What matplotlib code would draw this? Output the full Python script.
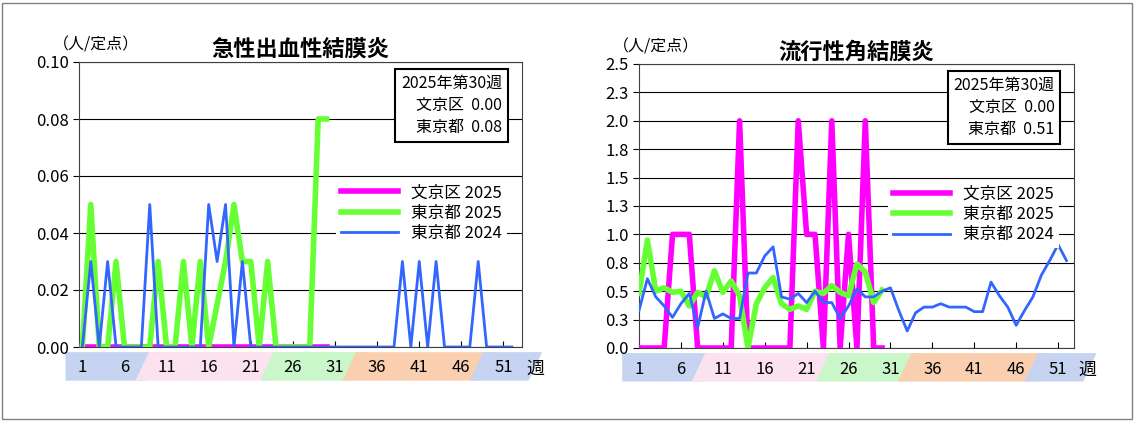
import matplotlib.pyplot as plt
from matplotlib.patches import Polygon, Rectangle
import matplotlib.transforms as mtransforms

plt.rcParams['font.family'] = ['Noto Sans CJK JP', 'DejaVu Sans']

# %% data
weeks_2025 = list(range(1, 31))
weeks_2024 = list(range(1, 53))

# 急性出血性結膜炎
ahc_bunkyo_2025 = [0.0] * 30
ahc_tokyo_2025 = [0, 0.05, 0, 0, 0.03, 0, 0, 0, 0, 0.03, 0, 0, 0.03, 0, 0.03, 0,
                  0.015, 0.03, 0.05, 0.03, 0.03, 0, 0.03, 0, 0, 0, 0, 0, 0.08, 0.08]
ahc_tokyo_2024 = [0, 0.03, 0, 0.03, 0, 0, 0, 0, 0.05, 0, 0, 0, 0, 0, 0, 0.05,
                  0.03, 0.05, 0, 0.03, 0, 0, 0, 0, 0, 0, 0, 0, 0, 0, 0, 0, 0, 0, 0,
                  0, 0, 0, 0.03, 0, 0.03, 0, 0.03, 0, 0, 0, 0, 0.03, 0, 0, 0, 0]

# 流行性角結膜炎
ekc_bunkyo_2025 = [0, 0, 0, 0, 1.0, 1.0, 1.0, 0, 0, 0, 0, 0, 2.0, 0, 0, 0, 0, 0, 0,
                   2.0, 1.0, 1.0, 0, 2.0, 0, 1.0, 0, 2.0, 0, 0]
ekc_tokyo_2025 = [0.48, 0.95, 0.5, 0.53, 0.49, 0.5, 0.37, 0.49, 0.45, 0.68, 0.49,
                  0.59, 0.46, 0, 0.39, 0.53, 0.62, 0.39, 0.34, 0.37, 0.34, 0.5, 0.48,
                  0.55, 0.49, 0.46, 0.74, 0.67, 0.4, 0.51]
ekc_tokyo_2024 = [0.33, 0.61, 0.45, 0.37, 0.27, 0.39, 0.48, 0.18, 0.5, 0.26, 0.3,
                  0.26, 0.26, 0.66, 0.66, 0.81, 0.89, 0.45, 0.43, 0.48, 0.40, 0.5,
                  0.40, 0.40, 0.26, 0.37, 0.52, 0.45, 0.45, 0.5, 0.53, 0.33, 0.15,
                  0.31, 0.36, 0.36, 0.39, 0.36, 0.36, 0.36, 0.32, 0.32, 0.58, 0.46,
                  0.36, 0.2, 0.33, 0.45, 0.64, 0.77, 0.91, 0.77]

week_ticks = [1, 6, 11, 16, 21, 26, 31, 36, 41, 46, 51]
ahc_yticks = [0, 0.02, 0.04, 0.06, 0.08, 0.10]
ahc_ylabels = ['0.00', '0.02', '0.04', '0.06', '0.08', '0.10']
ekc_yticks = [i * 0.25 for i in range(11)]
ekc_ylabels = ['0.0', '0.3', '0.5', '0.8', '1.0', '1.3', '1.5', '1.8', '2.0', '2.3', '2.5']

# week bands: (start, end, colour)
bands = [(-1.0, 8.6, '#C6D4F2'), (8.9, 23.4, '#FCE1EF'), (23.7, 33.2, '#C9F7C9'),
         (33.5, 48.3, '#F9CFAF'), (48.6, 54.0, '#C6D4F2')]

# %% plot
fig = plt.figure(figsize=(11.34, 4.21), dpi=100)
fig.patches.append(Rectangle((0.002, 0.004), 0.996, 0.99, transform=fig.transFigure,
                             fill=False, edgecolor='#808080', lw=1))

W, H = 1134, 421


def draw_panel(rect, title, bunkyo, tokyo25, tokyo24, yticks, ylabels, ymax,
               xlim, tokyo_now):
    l, t, r, b = rect
    ax = fig.add_axes([l / W, 1 - b / H, (r - l) / W, (b - t) / H])
    ax.plot(weeks_2025, bunkyo, color='#FF00FF', lw=4, label='文京区 2025', zorder=3)
    ax.plot(weeks_2025, tokyo25, color='#66FF33', lw=4, label='東京都 2025', zorder=4)
    ax.plot(weeks_2024, tokyo24, color='#3366FF', lw=2, label='東京都 2024', zorder=5)
    ax.set_xlim(xlim)
    ax.set_ylim(0, ymax)
    ax.set_yticks(yticks)
    ax.set_yticklabels(ylabels, fontsize=12)
    ax.set_xticks(week_ticks)
    ax.set_xticklabels([str(w) for w in week_ticks], fontsize=12)
    ax.tick_params(axis='x', direction='in', pad=9, length=4)
    ax.tick_params(axis='y', length=4)
    ax.yaxis.grid(True, color='black', lw=0.8)
    ax.set_axisbelow(True)
    for s in ax.spines.values():
        s.set_color('#404040')
    ax.set_title(title, fontsize=16, fontweight='bold', pad=4)
    ax.text(-0.06, 1.03, '（人/定点）', transform=ax.transAxes, fontsize=11.5,
            ha='left', va='bottom')
    ax.text(1.01, -0.075, '週', transform=ax.transAxes, fontsize=13, va='center')
    trans = mtransforms.blended_transform_factory(ax.transData, ax.transAxes)
    for x0, x1, c in bands:
        sl = 1.6
        left_bottom = x0 if x0 < 0 else x0 - sl
        poly = Polygon([(x0, -0.018), (x1 + sl, -0.018), (x1, -0.118), (left_bottom, -0.118)],
                       closed=True, transform=trans, facecolor=c, edgecolor='none',
                       clip_on=False, zorder=0)
        ax.add_patch(poly)
    ax.text(0.955, 0.955, f'2025年第30週\n文京区  0.00\n東京都  {tokyo_now}',
            transform=ax.transAxes, fontsize=11.5, ha='right', va='top', linespacing=1.4,
            bbox=dict(boxstyle='square,pad=0.35', facecolor='white', edgecolor='black', lw=1.5),
            zorder=10)
    leg = ax.legend(loc='center right', bbox_to_anchor=(0.985, 0.47), fontsize=12,
                    frameon=True, fancybox=False, framealpha=1, edgecolor='none',
                    handlelength=3.4, labelspacing=0.2, borderpad=0.3)
    leg.set_zorder(9)
    return ax


draw_panel((79, 62, 522, 347), '急性出血性結膜炎', ahc_bunkyo_2025, ahc_tokyo_2025,
           ahc_tokyo_2024, ahc_yticks, ahc_ylabels, 0.10, (0.6, 53.2), '0.08')
draw_panel((639, 64, 1074, 348), '流行性角結膜炎', ekc_bunkyo_2025, ekc_tokyo_2025,
           ekc_tokyo_2024, ekc_yticks, ekc_ylabels, 2.5, (1.0, 52.9), '0.51')

plt.savefig('out.png', dpi=100)
